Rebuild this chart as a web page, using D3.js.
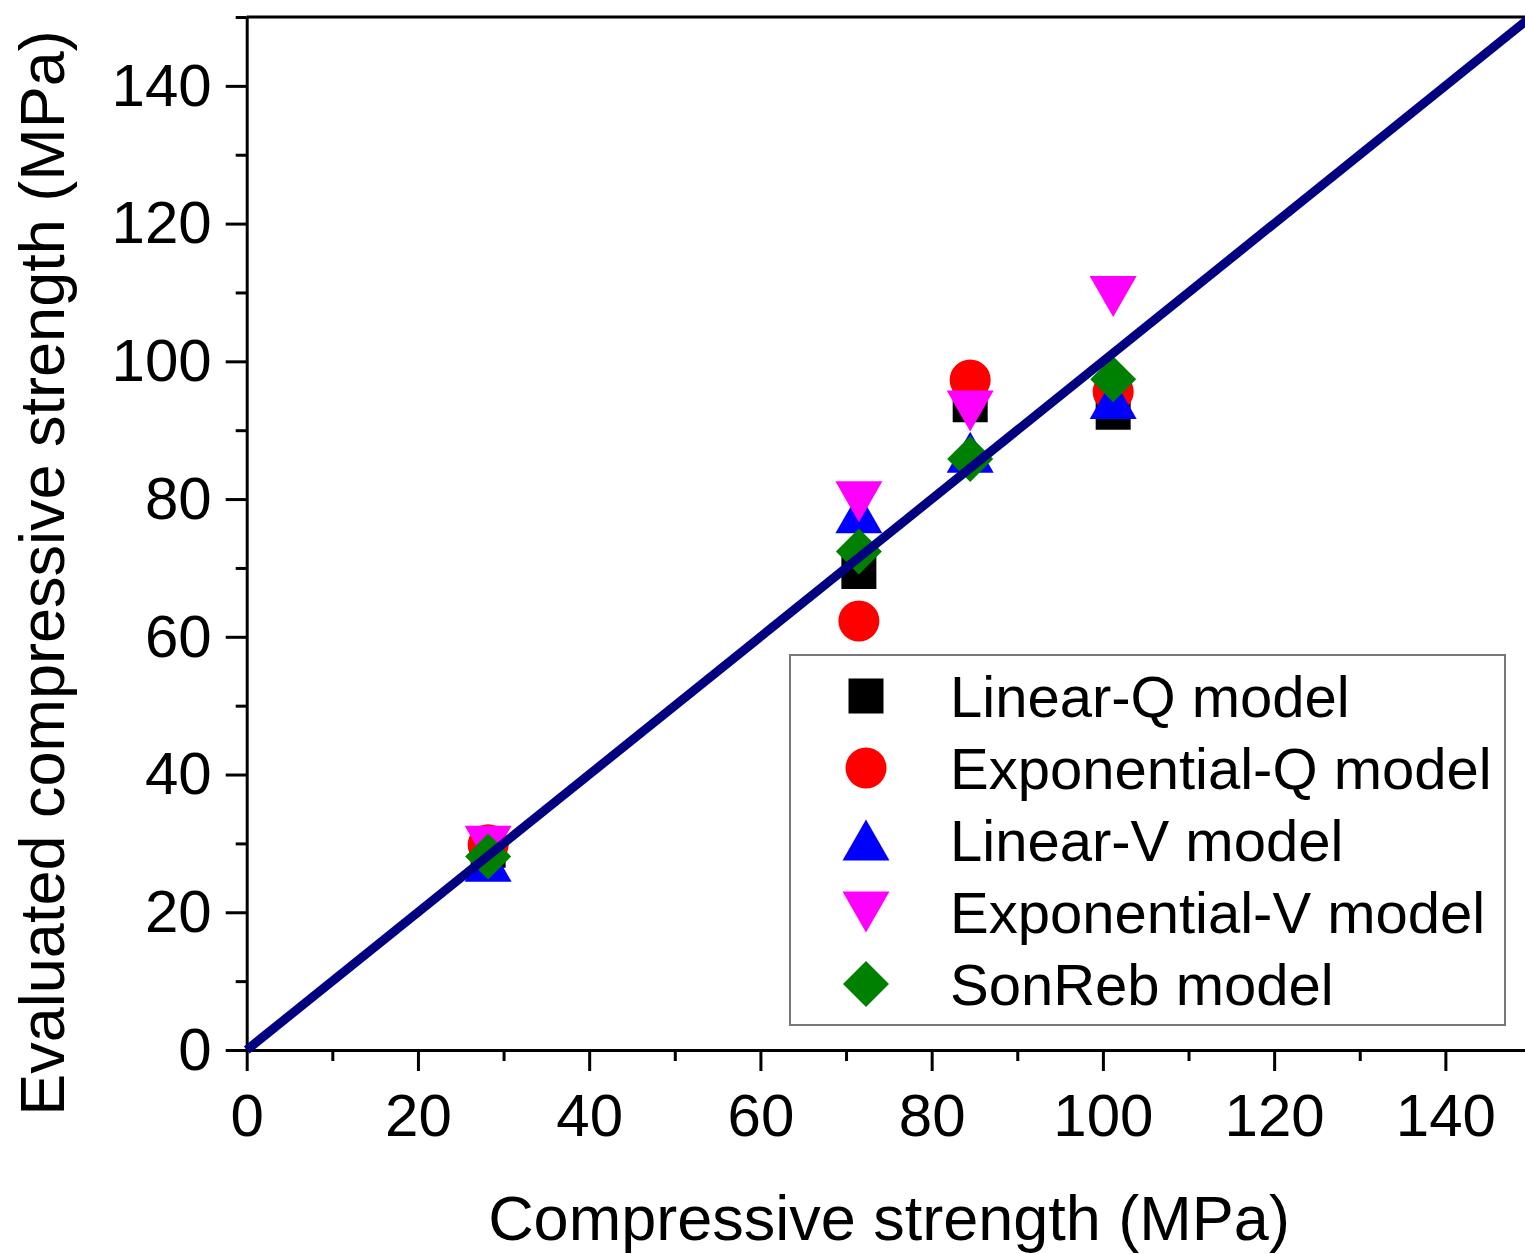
<!DOCTYPE html>
<html>
<head>
<meta charset="utf-8">
<script src="https://cdn.jsdelivr.net/npm/d3@7"></script>
<style>
  html, body { margin: 0; padding: 0; background: #fff; }
  svg { display: block; }
  text { font-family: "Liberation Sans", Arial, Helvetica, sans-serif; fill: #000; }
</style>
</head>
<body>
<svg id="chart" width="1525" height="1254"></svg>
<script>
// ---- data ----
const compressive = [28.2, 71.5, 84.5, 101.2];
const linearQ = [29.0, 69.5, 93.7, 92.6];
const exponentialQ = [29.8, 62.3, 97.3, 95.6];
const linearV = [27.4, 78.0, 86.8, 94.6];
const exponentialV = [29.6, 79.6, 92.8, 109.4];
const sonReb = [28.1, 72.4, 85.8, 97.4];
const seriesNames = ["Linear-Q model", "Exponential-Q model", "Linear-V model", "Exponential-V model", "SonReb model"];
const seriesColors = ["#000000", "#ff0000", "#0000ff", "#ff00ff", "#008000"];
const seriesShapes = ["square", "circle", "triangleUp", "triangleDown", "diamond"];
const seriesValues = [linearQ, exponentialQ, linearV, exponentialV, sonReb];
const majorTicks = [0, 20, 40, 60, 80, 100, 120, 140];
const minorTicks = [10, 30, 50, 70, 90, 110, 130, 150];
const diagonal = [0, 150];
const xTitle = "Compressive strength (MPa)";
const yTitle = "Evaluated compressive strength (MPa)";

// ---- layout ----
const svg = d3.select("#chart");
const x = d3.scaleLinear().domain([0, 150]).range([246.7, 1531]);
const y = d3.scaleLinear().domain([0, 150]).range([1050, 17]);

function shapePath(shape) {
  switch (shape) {
    case "square": { const s = 17.5; return `M${-s},${-s}H${s}V${s}H${-s}Z`; }
    case "circle": return d3.symbol(d3.symbolCircle, Math.PI * 20.5 * 20.5)();
    case "triangleUp": { const w = 23.5, h = 20.5; return `M0,${-h}L${w},${h}L${-w},${h}Z`; }
    case "triangleDown": { const w = 23.5, h = 20.5; return `M0,${h}L${w},${-h}L${-w},${-h}Z`; }
    case "diamond": { const r = 23; return `M0,${-r}L${r},0L0,${r}L${-r},0Z`; }
  }
}

// frame top line
svg.append("line")
  .attr("x1", x(0)).attr("x2", x(150))
  .attr("y1", y(150)).attr("y2", y(150))
  .attr("stroke", "#000").attr("stroke-width", 3);

// axes
function styleAxis(g) {
  g.selectAll("path.domain").attr("stroke", "#000").attr("stroke-width", 3);
  g.selectAll(".tick line").attr("stroke", "#000").attr("stroke-width", 3);
  g.selectAll(".tick text").style("font-size", "60px")
    .style("font-family", '"Liberation Sans", Arial, sans-serif').attr("fill", "#000");
}

const gxMinor = svg.append("g").attr("transform", `translate(0,${y(0)})`)
  .call(d3.axisBottom(x).tickValues(minorTicks).tickSize(11).tickSizeOuter(0).tickFormat(""));
gxMinor.select(".domain").remove();
styleAxis(gxMinor);

const gx = svg.append("g").attr("transform", `translate(0,${y(0)})`)
  .call(d3.axisBottom(x).tickValues(majorTicks).tickSize(21).tickSizeOuter(0).tickPadding(22));
styleAxis(gx);
gx.selectAll(".tick text").attr("dy", "0.71em");

const gyMinor = svg.append("g").attr("transform", `translate(${x(0)},0)`)
  .call(d3.axisLeft(y).tickValues(minorTicks).tickSize(11).tickSizeOuter(0).tickFormat(""));
gyMinor.select(".domain").remove();
styleAxis(gyMinor);

const gy = svg.append("g").attr("transform", `translate(${x(0)},0)`)
  .call(d3.axisLeft(y).tickValues(majorTicks).tickSize(21).tickSizeOuter(0).tickPadding(14));
styleAxis(gy);

// markers
seriesValues.forEach((vals, i) => {
  svg.append("g").selectAll("path")
    .data(vals.map((v, j) => ({ x: compressive[j], y: v })))
    .join("path")
    .attr("d", shapePath(seriesShapes[i]))
    .attr("transform", d => `translate(${x(d.x)},${y(d.y)})`)
    .attr("fill", seriesColors[i]);
});

// diagonal line
svg.append("path")
  .datum(diagonal)
  .attr("d", d3.line().x(d => x(d)).y(d => y(d)))
  .attr("stroke", "#000080").attr("stroke-width", 9).attr("fill", "none");

// axis titles
svg.append("text")
  .attr("x", 889).attr("y", 1240)
  .attr("text-anchor", "middle")
  .style("font-size", "63px")
  .text(xTitle);

svg.append("text")
  .attr("transform", "translate(64,573) rotate(-90)")
  .attr("text-anchor", "middle")
  .style("font-size", "63px")
  .text(yTitle);

// legend
const legend = svg.append("g");
legend.append("rect")
  .attr("x", 790).attr("y", 655).attr("width", 715).attr("height", 370)
  .attr("fill", "#fff").attr("stroke", "#777").attr("stroke-width", 2);
const rowY = d3.scalePoint().domain(seriesNames).range([696, 984]);
seriesNames.forEach((name, i) => {
  legend.append("path")
    .attr("d", shapePath(seriesShapes[i]))
    .attr("transform", `translate(866,${rowY(name)})`)
    .attr("fill", seriesColors[i]);
  legend.append("text")
    .attr("x", 950).attr("y", rowY(name) + 21)
    .style("font-size", "58px")
    .text(name);
});
</script>
</body>
</html>
